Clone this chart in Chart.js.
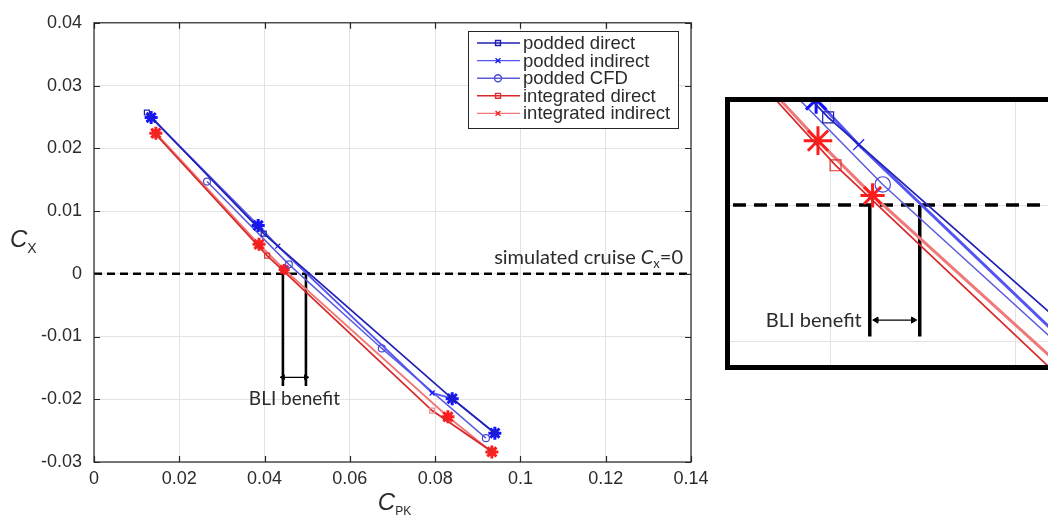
<!DOCTYPE html>
<html>
<head>
<meta charset="utf-8">
<script src="https://cdn.jsdelivr.net/npm/chart.js@4.4.1/dist/chart.umd.min.js"></script>
<style>
  html, body { margin: 0; padding: 0; background: #fff; overflow: hidden; }
  body { width: 1048px; height: 517px; position: relative; }
  #mainWrap { position: absolute; left: 0; top: 0; width: 720px; height: 517px; }
  #insetWrap { position: absolute; left: 725px; top: 97px; width: 400px; height: 263px; border: 5px solid #000; background: #fff; }
</style>
</head>
<body>
<div id="mainWrap"><canvas id="mainChart"></canvas></div>
<div id="insetWrap"><canvas id="insetChart"></canvas></div>
<script>
// ---- data ----
const seriesNames = ["podded direct", "podded indirect", "podded CFD", "integrated direct", "integrated indirect"];

const poddedDirectCpk = [0.0124, 0.0398, 0.0840, 0.0940];
const poddedDirectCx = [0.0257, 0.0064, -0.0199, -0.0254];

const poddedIndirectCpk = [0.0134, 0.0385, 0.0431, 0.0793, 0.0840, 0.0940];
const poddedIndirectCx = [0.0249, 0.0077, 0.0044, -0.0190, -0.0199, -0.0254];

const poddedCfdCpk = [0.0265, 0.0457, 0.0675, 0.0919];
const poddedCfdCx = [0.0147, 0.0015, -0.0119, -0.0262];

const integratedDirectCpk = [0.0145, 0.0406, 0.0793, 0.0930];
const integratedDirectCx = [0.0222, 0.0029, -0.0218, -0.0282];

const integratedIndirectCpk = [0.0145, 0.0387, 0.0446, 0.0830, 0.0933];
const integratedIndirectCx = [0.0224, 0.0047, 0.0007, -0.0228, -0.0284];

// annotations
const cruiseCpk = [0, 0.14];
const cruiseCx = [0, 0];
const bliCpk = [0.0443, 0.0497];
const bliBottomCx = -0.0179;
const bliArrowCx = -0.0165;
const insetBliBottomCx = -0.0096;
const insetBliArrowCx = -0.0084;
const insetArrowCpk = [0.0450, 0.0490];

// ticks
const xTickValues = [0, 0.02, 0.04, 0.06, 0.08, 0.1, 0.12, 0.14];
const xTickLabels = ["0", "0.02", "0.04", "0.06", "0.08", "0.1", "0.12", "0.14"];
const yTickValues = [0.04, 0.03, 0.02, 0.01, 0, -0.01, -0.02, -0.03];
const yTickLabels = ["0.04", "0.03", "0.02", "0.01", "0", "-0.01", "-0.02", "-0.03"];
const insetXGrid = [0.04, 0.06];
const insetYGrid = [0, -0.01];

// ---- styling ----
const lineColors = ["#2020b4", "#5454f2", "#5c5cdc", "#d82828", "#f07878"];
const markColors = ["#2020b4", "#1414ff", "#4a4ad8", "#e03030", "#ff1c1c"];
const legendMarks = ["rect", "crossRot", "circle", "rect", "crossRot"];
const TEXT = "#2b2b2b";

function pts(xs, ys) {
  return xs.map((v, i) => ({ x: v, y: ys[i] }));
}

function seriesDatasets(big) {
  const k = big ? 2.2 : 1;
  return [
    {
      label: seriesNames[0], data: pts(poddedDirectCpk, poddedDirectCx),
      borderColor: lineColors[0], borderWidth: 1.7,
      pointStyle: "rect", pointRadius: 3.5 * k, pointBorderWidth: 1.2,
      pointBorderColor: markColors[0], pointBackgroundColor: "rgba(0,0,0,0)"
    },
    {
      label: seriesNames[1], data: pts(poddedIndirectCpk, poddedIndirectCx),
      borderColor: lineColors[1], borderWidth: big ? 3 : 1.9,
      pointStyle: ["star", "star", "crossRot", "crossRot", "star", "star"],
      pointRadius: [6.5 * k, 6.5 * k, 3.5 * k, 3.5 * k, 6.5 * k, 6.5 * k],
      pointBorderWidth: [3, 3, 1.2, 1.2, 3, 3],
      pointBorderColor: markColors[1], pointBackgroundColor: "rgba(0,0,0,0)"
    },
    {
      label: seriesNames[2], data: pts(poddedCfdCpk, poddedCfdCx),
      borderColor: lineColors[2], borderWidth: 1.5,
      pointStyle: "circle", pointRadius: 3.5 * k, pointBorderWidth: 1.2,
      pointBorderColor: markColors[2], pointBackgroundColor: "rgba(0,0,0,0)"
    },
    {
      label: seriesNames[3], data: pts(integratedDirectCpk, integratedDirectCx),
      borderColor: lineColors[3], borderWidth: 1.7,
      pointStyle: "rect", pointRadius: 3.5 * k, pointBorderWidth: 1.2,
      pointBorderColor: ["#e03030", "#e03030", "#f08a8a", "#e03030"], pointBackgroundColor: "rgba(0,0,0,0)"
    },
    {
      label: seriesNames[4], data: pts(integratedIndirectCpk, integratedIndirectCx),
      borderColor: lineColors[4], borderWidth: big ? 3 : 1.9,
      pointStyle: "star", pointRadius: [6.5 * k, 6.5 * k, 5.5 * k, 6.5 * k, 6.5 * k], pointBorderWidth: 3,
      pointBorderColor: markColors[4], pointBackgroundColor: "rgba(0,0,0,0)"
    }
  ];
}

function annotationDatasets(big) {
  const bottom = big ? insetBliBottomCx : bliBottomCx;
  const arrowY = big ? insetBliArrowCx : bliArrowCx;
  const arrowX = big ? insetArrowCpk : bliCpk;
  return [
    {
      label: "cruise", data: pts(cruiseCpk, cruiseCx), borderColor: "#000",
      borderWidth: big ? 3.5 : 2.5, borderDash: big ? [13, 8] : [8, 5], pointRadius: 0
    },
    {
      label: "bli1", data: pts([bliCpk[0], bliCpk[0]], [0, bottom]), borderColor: "#000",
      borderWidth: big ? 3.5 : 2.6, pointRadius: 0
    },
    {
      label: "bli2", data: pts([bliCpk[1], bliCpk[1]], [0, bottom]), borderColor: "#000",
      borderWidth: big ? 3.5 : 2.6, pointRadius: 0
    },
    {
      label: "arrow", data: pts(arrowX, [arrowY, arrowY]), borderColor: "#000",
      borderWidth: 1.2, pointStyle: "triangle", pointRotation: [-90, 90],
      pointRadius: big ? 3.5 : 2.8, pointBackgroundColor: "#000", pointBorderColor: "#000", pointBorderWidth: 1
    }
  ];
}

function mixedText(ctx, parts, x, y, align) {
  // parts: [text, font, dy]
  let total = 0;
  parts.forEach(p => { ctx.font = p[1]; total += ctx.measureText(p[0]).width; });
  let cx = align === "right" ? x - total : align === "center" ? x - total / 2 : x;
  parts.forEach(p => {
    ctx.font = p[1];
    ctx.fillText(p[0], cx, y + (p[2] || 0));
    cx += ctx.measureText(p[0]).width;
  });
}

const mainDecor = {
  id: "mainDecor",
  afterDraw(chart) {
    const { ctx, chartArea: a, scales } = chart;
    const xs = scales.x, ys = scales.y;
    ctx.save();

    // box and inward ticks
    ctx.strokeStyle = "#262626";
    ctx.lineWidth = 1.2;
    ctx.strokeRect(a.left, a.top, a.right - a.left, a.bottom - a.top);
    ctx.beginPath();
    xTickValues.forEach(v => {
      const p = Math.round(xs.getPixelForValue(v)) + 0.5;
      ctx.moveTo(p, a.bottom); ctx.lineTo(p, a.bottom - 6);
      ctx.moveTo(p, a.top); ctx.lineTo(p, a.top + 6);
    });
    yTickValues.forEach(v => {
      const p = Math.round(ys.getPixelForValue(v)) + 0.5;
      ctx.moveTo(a.left, p); ctx.lineTo(a.left + 6, p);
      ctx.moveTo(a.right, p); ctx.lineTo(a.right - 6, p);
    });
    ctx.stroke();

    // legend
    const L = 468, T = 31, W = 210, H = 97;
    ctx.fillStyle = "#fff";
    ctx.fillRect(L, T, W, H);
    ctx.strokeStyle = "#262626";
    ctx.lineWidth = 1;
    ctx.strokeRect(L + 0.5, T + 0.5, W, H);
    seriesNames.forEach((name, i) => {
      const yy = T + 12 + i * 17.6;
      ctx.strokeStyle = lineColors[i];
      ctx.lineWidth = 1.4;
      ctx.beginPath();
      ctx.moveTo(L + 9, yy); ctx.lineTo(L + 52, yy);
      ctx.stroke();
      ctx.strokeStyle = markColors[i];
      ctx.fillStyle = "rgba(0,0,0,0)";
      Chart.helpers.drawPoint(ctx, { pointStyle: legendMarks[i], radius: 3.5, rotation: 0, borderWidth: 1.2 }, L + 30, yy);
      ctx.fillStyle = TEXT;
      ctx.font = '18.5px "Liberation Sans"';
      ctx.textBaseline = "middle";
      ctx.textAlign = "left";
      ctx.fillText(name, L + 55, yy + 1);
    });

    // axis titles
    ctx.fillStyle = TEXT;
    ctx.textBaseline = "alphabetic";
    ctx.textAlign = "left";
    mixedText(ctx, [["C", 'italic 24px "Liberation Sans"', 0], ["X", '14px "Liberation Sans"', 6]], 10, 247, "left");
    mixedText(ctx, [["C", 'italic 24px "Liberation Sans"', 0], ["PK", '12px "Liberation Sans"', 5]], (a.left + a.right) / 2 + 2, 510, "center");

    // annotations
    const zeroY = ys.getPixelForValue(0);
    mixedText(ctx, [
      ["simulated cruise ", '20px Lato', 0],
      ["C", 'italic 20px Lato', 0],
      ["x", '13px Lato', 4],
      ["=0", '20px Lato', 0]
    ], a.right - 8, zeroY - 10, "right");
    const bx = (xs.getPixelForValue(bliCpk[0]) + xs.getPixelForValue(bliCpk[1])) / 2;
    ctx.font = '19px Lato';
    ctx.textAlign = "center";
    ctx.textBaseline = "middle";
    ctx.fillText("BLI benefit", bx, ys.getPixelForValue(bliBottomCx) + 13);
    ctx.restore();
  }
};

const insetDecor = {
  id: "insetDecor",
  afterDraw(chart) {
    const { ctx, scales } = chart;
    ctx.save();
    ctx.fillStyle = TEXT;
    ctx.font = '20px Lato';
    ctx.textAlign = "right";
    ctx.textBaseline = "middle";
    ctx.fillText("BLI benefit", scales.x.getPixelForValue(bliCpk[0]) - 8, scales.y.getPixelForValue(insetBliArrowCx));
    ctx.restore();
  }
};

// main chart
new Chart(document.getElementById("mainChart"), {
  type: "line",
  data: { datasets: seriesDatasets(false).concat(annotationDatasets(false)) },
  options: {
    responsive: true,
    maintainAspectRatio: false,
    animation: false,
    events: [],
    layout: { autoPadding: false, padding: { top: 17, right: 29, left: 0, bottom: 0 } },
    plugins: { legend: { display: false }, tooltip: { enabled: false } },
    scales: {
      x: {
        type: "linear", min: 0, max: 0.14,
        afterBuildTicks: s => { s.ticks = xTickValues.map(v => ({ value: v })); },
        afterFit: s => { s.height = 55; },
        ticks: {
          callback: (v, i) => xTickLabels[i], autoSkip: false, maxRotation: 0,
          font: { family: "Liberation Sans", size: 18 }, color: TEXT, padding: 6
        },
        grid: { color: "#e3e3e3", drawTicks: false },
        border: { display: false }
      },
      y: {
        type: "linear", min: -0.03, max: 0.04,
        afterBuildTicks: s => { s.ticks = yTickValues.map(v => ({ value: v })); },
        afterFit: s => { s.width = 94; },
        ticks: {
          callback: (v, i) => yTickLabels[i], autoSkip: false,
          font: { family: "Liberation Sans", size: 18 }, color: TEXT, padding: 12
        },
        grid: { color: "#e3e3e3", drawTicks: false },
        border: { display: false }
      }
    }
  },
  plugins: [mainDecor]
});

// zoomed inset
new Chart(document.getElementById("insetChart"), {
  type: "line",
  data: { datasets: seriesDatasets(true).concat(annotationDatasets(true)) },
  options: {
    responsive: true,
    maintainAspectRatio: false,
    animation: false,
    events: [],
    layout: { autoPadding: false, padding: 0 },
    plugins: { legend: { display: false }, tooltip: { enabled: false } },
    scales: {
      x: {
        type: "linear", min: 0.02919, max: 0.07243,
        afterBuildTicks: s => { s.ticks = insetXGrid.map(v => ({ value: v })); },
        afterFit: s => { s.height = 0; },
        ticks: { display: false },
        grid: { color: "#e3e3e3", drawTicks: false },
        border: { display: false }
      },
      y: {
        type: "linear", min: -0.01168, max: 0.00752,
        afterBuildTicks: s => { s.ticks = insetYGrid.map(v => ({ value: v })); },
        afterFit: s => { s.width = 0; },
        ticks: { display: false },
        grid: { color: "#e3e3e3", drawTicks: false },
        border: { display: false }
      }
    }
  },
  plugins: [insetDecor]
});
</script>
</body>
</html>
